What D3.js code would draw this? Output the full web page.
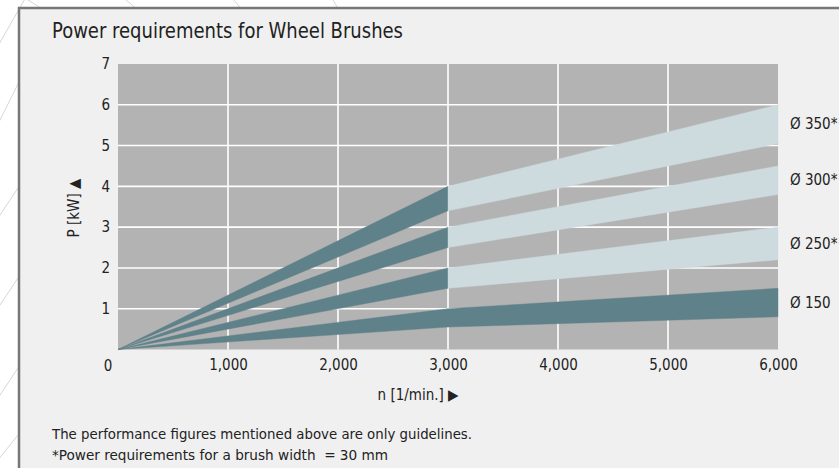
<!DOCTYPE html>
<html>
<head>
<meta charset="utf-8">
<script src="https://d3js.org/d3.v7.min.js"></script>
<style>
  body { margin: 0; background: #fff; }
  svg text { font-family: "Liberation Sans Narrow", "DejaVu Sans Condensed", "Roboto Condensed", sans-serif; fill: #222; }
</style>
</head>
<body>
<div class="chart"></div>
<script>
// chart data
var rpm = [0, 3000, 6000];
var sizes = ["Ø 350*", "Ø 300*", "Ø 250*", "Ø 150"];
var upper = [[0, 4.0, 6.0], [0, 3.0, 4.5], [0, 2.0, 3.0], [0, 1.0, 1.5]];
var lower = [[0, 3.4, 5.05], [0, 2.5, 3.8], [0, 1.5, 2.2], [0, 0.55, 0.8]];
var lightHigh = [true, true, true, false];
var xTicks = [1000, 2000, 3000, 4000, 5000, 6000];
var yTicks = [1, 2, 3, 4, 5, 6, 7];

var svgWidth = 839, svgHeight = 468;
var dark = "#5f8189", light = "#cddbdf";

var svg = d3.select(".chart").append("svg")
  .attr("width", svgWidth)
  .attr("height", svgHeight);

// faint decorative lines outside the panel
var deco = svg.append("g").attr("stroke", "#d6d6d6").attr("fill", "none").attr("stroke-width", 1);
[[-10, 60, 30, -10], [-10, 140, 40, 40], [-10, 230, 30, 170], [-10, 320, 30, 260],
 [-10, 410, 30, 350], [-10, 470, 30, 420], [20, -5, 60, 20], [120, -5, 150, 20],
 [230, -5, 250, 20], [330, -5, 345, 20]].forEach(function (p) {
  deco.append("line").attr("x1", p[0]).attr("y1", p[1]).attr("x2", p[2]).attr("y2", p[3]);
});

// panel
svg.append("rect")
  .attr("x", 19).attr("y", 8)
  .attr("width", svgWidth).attr("height", svgHeight)
  .attr("fill", "#f0f0f0")
  .attr("stroke", "#777")
  .attr("stroke-width", 2.5);

svg.append("text")
  .attr("x", 52).attr("y", 38)
  .style("font-size", "21px")
  .attr("textLength", 351)
  .attr("lengthAdjust", "spacingAndGlyphs")
  .text("Power requirements for Wheel Brushes");

var x = d3.scaleLinear().domain([0, 6000]).range([118, 778]);
var y = d3.scaleLinear().domain([0, 7]).range([349.5, 64]);

// plot background
svg.append("rect")
  .attr("x", x(0)).attr("y", y(7))
  .attr("width", x(6000) - x(0)).attr("height", y(0) - y(7))
  .attr("fill", "#b3b3b3");

// grid
var grid = svg.append("g").attr("stroke", "#fff").attr("stroke-width", 1.6);
grid.selectAll(".gx").data(xTicks.slice(0, -1)).enter().append("line")
  .attr("x1", d => x(d)).attr("x2", d => x(d))
  .attr("y1", y(0)).attr("y2", y(7));
grid.selectAll(".gy").data(yTicks.slice(0, -1)).enter().append("line")
  .attr("x1", x(0)).attr("x2", x(6000))
  .attr("y1", d => y(d)).attr("y2", d => y(d));

// bands, one segment per rpm interval
var area = d3.area()
  .x(d => x(d.n))
  .y0(d => y(d.lo))
  .y1(d => y(d.hi));

var bands = svg.append("g");
sizes.forEach(function (s, i) {
  for (var k = 0; k < rpm.length - 1; k++) {
    var seg = [k, k + 1].map(j => ({ n: rpm[j], lo: lower[i][j], hi: upper[i][j] }));
    bands.append("path")
      .datum(seg)
      .attr("d", area)
      .attr("fill", (k === 1 && lightHigh[i]) ? light : dark)
      .attr("stroke", (k === 1 && lightHigh[i]) ? light : dark)
      .attr("stroke-width", 0.4);
  }
  var last = rpm.length - 1;
  svg.append("text")
    .attr("x", 790)
    .attr("y", y((upper[i][last] + lower[i][last]) / 2))
    .attr("dy", "0.35em")
    .style("font-size", "15px")
    .text(s);
});

// axis labels
var yAxis = d3.axisLeft(y).tickValues(yTicks).tickSize(0).tickPadding(8)
  .tickFormat(d3.format("d"));
svg.append("g")
  .attr("transform", `translate(${x(0)},0)`)
  .call(yAxis)
  .call(g => g.select(".domain").remove())
  .selectAll("text").style("font-size", "15px").attr("fill", "#222");

var xAxis = d3.axisBottom(x).tickValues(xTicks).tickSize(0).tickPadding(10)
  .tickFormat(d3.format(","));
svg.append("g")
  .attr("transform", `translate(0,${y(0)})`)
  .call(xAxis)
  .call(g => g.select(".domain").remove())
  .selectAll("text").style("font-size", "15px").attr("fill", "#222");

svg.append("text")
  .attr("x", 108).attr("y", 371)
  .attr("text-anchor", "middle")
  .style("font-size", "15px")
  .text("0");

svg.append("text")
  .attr("x", 418).attr("y", 400)
  .attr("text-anchor", "middle")
  .style("font-size", "15px")
  .text("n [1/min.] ▶");

svg.append("text")
  .attr("transform", "translate(79,208) rotate(-90)")
  .attr("text-anchor", "middle")
  .style("font-size", "15px")
  .text("P [kW] ▲");

// footnotes
svg.append("text")
  .attr("x", 52).attr("y", 439)
  .style("font-size", "14.5px")
  .attr("textLength", 420)
  .attr("lengthAdjust", "spacingAndGlyphs")
  .text("The performance figures mentioned above are only guidelines.");

svg.append("text")
  .attr("x", 52).attr("y", 460)
  .style("font-size", "14.5px")
  .attr("textLength", 336)
  .attr("lengthAdjust", "spacingAndGlyphs")
  .text("*Power requirements for a brush width \u00a0= 30 mm");
</script>
</body>
</html>
